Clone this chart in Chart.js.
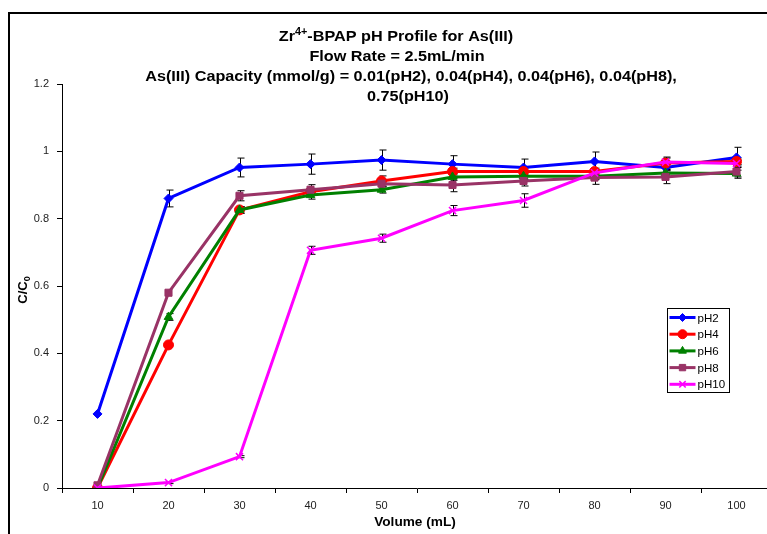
<!DOCTYPE html>
<html>
<head>
<meta charset="utf-8">
<script src="https://cdn.jsdelivr.net/npm/chart.js@4/dist/chart.umd.min.js"></script>
<style>
  html, body { margin: 0; padding: 0; overflow: hidden; background: #fff; }
  canvas { display: block; }
</style>
</head>
<body>
<canvas id="c" width="800" height="534"></canvas>
<script>
// Volume categories (x axis)
const volumes = ['10', '20', '30', '40', '50', '60', '70', '80', '90', '100'];
const yTicks = [0, 0.2, 0.4, 0.6, 0.8, 1, 1.2];

// C/C0 per pH
const pH2 = [0.22, 0.86, 0.952, 0.962, 0.974, 0.962, 0.952, 0.97, 0.952, 0.982];
const pH4 = [0.0, 0.425, 0.826, 0.88, 0.912, 0.94, 0.94, 0.94, 0.965, 0.97];
const pH6 = [0.0, 0.508, 0.826, 0.87, 0.886, 0.924, 0.926, 0.926, 0.936, 0.934];
const pH8 = [0.008, 0.58, 0.868, 0.886, 0.904, 0.9, 0.912, 0.922, 0.924, 0.94];
const pH10 = [0.0, 0.016, 0.093, 0.706, 0.742, 0.824, 0.854, 0.936, 0.968, 0.964];

// Error (+/-) per point
const pH2Err = [0, 0.025, 0.028, 0.03, 0.03, 0.025, 0.025, 0.028, 0.01, 0.03];
const pH4Err = [0, 0, 0.01, 0.01, 0.015, 0.01, 0.01, 0.01, 0.015, 0.01];
const pH6Err = [0, 0.01, 0.01, 0.012, 0.01, 0.01, 0.01, 0.01, 0.01, 0.01];
const pH8Err = [0, 0, 0.015, 0.015, 0.01, 0.02, 0.015, 0.02, 0.02, 0.02];
const pH10Err = [0, 0.003, 0.003, 0.012, 0.012, 0.015, 0.02, 0.01, 0.015, 0.01];

const seriesNames = ['pH2', 'pH4', 'pH6', 'pH8', 'pH10'];
const seriesColors = ['#0000FF', '#FF0000', '#008000', '#993366', '#FF00FF'];
const seriesMarkers = ['rectRot', 'circle', 'triangle', 'rect', 'crossRot'];
const seriesRadius = [4.5, 5, 5, 5, 5];
const seriesData = [pH2, pH4, pH6, pH8, pH10];
const seriesErr = [pH2Err, pH4Err, pH6Err, pH8Err, pH10Err];

const FONT = 'Arial, "Liberation Sans", sans-serif';

// Vertical error bars with caps
const errorBars = {
    id: 'errorBars',
    beforeDatasetsDraw(chart) {
        const ctx = chart.ctx;
        const y = chart.scales.y;
        ctx.save();
        ctx.strokeStyle = '#000';
        ctx.lineWidth = 1;
        chart.data.datasets.forEach((ds, di) => {
            const meta = chart.getDatasetMeta(di);
            const err = seriesErr[di];
            meta.data.forEach((pt, i) => {
                const e = err[i];
                if (!e) return;
                const x = Math.round(pt.x) + 0.5;
                const top = y.getPixelForValue(ds.data[i] + e);
                const bot = y.getPixelForValue(ds.data[i] - e);
                ctx.beginPath();
                ctx.moveTo(x, top); ctx.lineTo(x, bot);
                ctx.moveTo(x - 3, top); ctx.lineTo(x + 4, top);
                ctx.moveTo(x - 3, bot); ctx.lineTo(x + 4, bot);
                ctx.stroke();
            });
        });
        ctx.restore();
    }
};

// text drawn slightly widened, like the original export
function wideText(ctx, text, x, y, sx) {
    ctx.save();
    ctx.translate(x, y);
    ctx.scale(sx, 1);
    ctx.fillText(text, 0, 0);
    ctx.restore();
}

// Titles, outer frame and legend box
const decorations = {
    id: 'decorations',
    afterDraw(chart) {
        const ctx = chart.ctx;
        ctx.save();

        // outer frame (cropped on right/bottom)
        ctx.strokeStyle = '#000';
        ctx.lineWidth = 2;
        ctx.beginPath();
        ctx.moveTo(9, 540);
        ctx.lineTo(9, 13);
        ctx.lineTo(810, 13);
        ctx.stroke();

        // title
        const cx = 396, sx = 1.08;
        ctx.fillStyle = '#000';
        ctx.textBaseline = 'alphabetic';
        const a = 'Zr', sup = '4+', b = '-BPAP pH Profile for As(III)';
        ctx.font = 'bold 15px ' + FONT;
        const wa = ctx.measureText(a).width * sx, wb = ctx.measureText(b).width * sx;
        ctx.font = 'bold 10px ' + FONT;
        const ws = ctx.measureText(sup).width * sx;
        const x0 = cx - (wa + ws + wb) / 2;
        ctx.textAlign = 'left';
        ctx.font = 'bold 15px ' + FONT;
        wideText(ctx, a, x0, 41, sx);
        ctx.font = 'bold 10px ' + FONT;
        wideText(ctx, sup, x0 + wa, 35, sx);
        ctx.font = 'bold 15px ' + FONT;
        wideText(ctx, b, x0 + wa + ws, 41, sx);
        ctx.textAlign = 'center';
        wideText(ctx, 'Flow Rate = 2.5mL/min', 397, 61, sx);
        wideText(ctx, 'As(III) Capacity (mmol/g) = 0.01(pH2), 0.04(pH4), 0.04(pH6), 0.04(pH8),', 411, 81, sx);
        wideText(ctx, '0.75(pH10)', 408, 101, sx);

        // x axis title
        ctx.font = 'bold 13px ' + FONT;
        wideText(ctx, 'Volume (mL)', 415, 526, 1.05);

        // y axis title C/C0
        ctx.translate(27, 290);
        ctx.rotate(-Math.PI / 2);
        ctx.textAlign = 'left';
        ctx.font = 'bold 13px ' + FONT;
        const w1 = ctx.measureText('C/C').width;
        ctx.font = 'bold 9px ' + FONT;
        const w2 = ctx.measureText('0').width;
        const tx = -(w1 + w2) / 2;
        ctx.font = 'bold 13px ' + FONT;
        ctx.fillText('C/C', tx, 0);
        ctx.font = 'bold 9px ' + FONT;
        ctx.fillText('0', tx + w1, 3);
        ctx.setTransform(1, 0, 0, 1, 0, 0);

        // legend
        const lx = 667.5, ly = 308.5, lw = 62, lh = 84;
        ctx.fillStyle = '#fff';
        ctx.fillRect(lx, ly, lw, lh);
        ctx.strokeStyle = '#000';
        ctx.lineWidth = 1;
        ctx.strokeRect(lx, ly, lw, lh);
        ctx.font = '11px ' + FONT;
        ctx.textBaseline = 'middle';
        ctx.textAlign = 'left';
        seriesNames.forEach((name, i) => {
            const yy = ly + 9 + i * 16.7;
            ctx.strokeStyle = seriesColors[i];
            ctx.fillStyle = seriesColors[i];
            ctx.lineWidth = 3;
            ctx.beginPath();
            ctx.moveTo(lx + 2, yy);
            ctx.lineTo(lx + 28, yy);
            ctx.stroke();
            ctx.lineWidth = seriesMarkers[i] === 'crossRot' ? 1.5 : 1;
            Chart.helpers.drawPoint(ctx, {
                pointStyle: seriesMarkers[i],
                radius: seriesRadius[i] - 0.5,
                borderWidth: ctx.lineWidth
            }, lx + 15, yy);
            ctx.fillStyle = '#000';
            wideText(ctx, name, lx + 30, yy + 1, 1.05);
        });
        ctx.restore();
    }
};

const datasets = seriesData.map((d, i) => ({
    label: seriesNames[i],
    data: d,
    borderColor: seriesColors[i],
    backgroundColor: seriesColors[i],
    pointBackgroundColor: seriesColors[i],
    pointBorderColor: seriesColors[i],
    pointStyle: seriesMarkers[i],
    pointRadius: seriesRadius[i],
    pointBorderWidth: seriesMarkers[i] === 'crossRot' ? 1.5 : 1,
    borderWidth: 3,
    tension: 0,
    fill: false,
    order: seriesNames.length - 1 - i
}));

new Chart(document.getElementById('c'), {
    type: 'line',
    data: { labels: volumes, datasets: datasets },
    plugins: [errorBars, decorations],
    options: {
        responsive: false,
        animation: false,
        layout: { padding: { top: 84, left: 0, right: 28, bottom: 0 } },
        plugins: {
            legend: { display: false },
            title: { display: false },
            tooltip: { enabled: false }
        },
        scales: {
            x: {
                type: 'category',
                offset: true,
                afterFit: s => { s.height = 46; },
                grid: {
                    offset: true,
                    drawOnChartArea: false,
                    drawTicks: true,
                    tickLength: 5,
                    color: '#000'
                },
                border: { display: true, color: '#000', width: 1 },
                ticks: {
                    color: '#222',
                    padding: 6,
                    maxRotation: 0,
                    font: { family: FONT, size: 11 }
                }
            },
            y: {
                min: 0,
                max: 1.2,
                afterFit: s => { s.width = 62; },
                afterBuildTicks: s => { s.ticks = yTicks.map(v => ({ value: v })); },
                grid: {
                    drawOnChartArea: false,
                    drawTicks: true,
                    tickLength: 5,
                    color: '#000'
                },
                border: { display: true, color: '#000', width: 1 },
                ticks: {
                    color: '#222',
                    padding: 8,
                    font: { family: FONT, size: 11 },
                    callback: v => String(Math.round(v * 10) / 10)
                }
            }
        }
    }
});
</script>
</body>
</html>
